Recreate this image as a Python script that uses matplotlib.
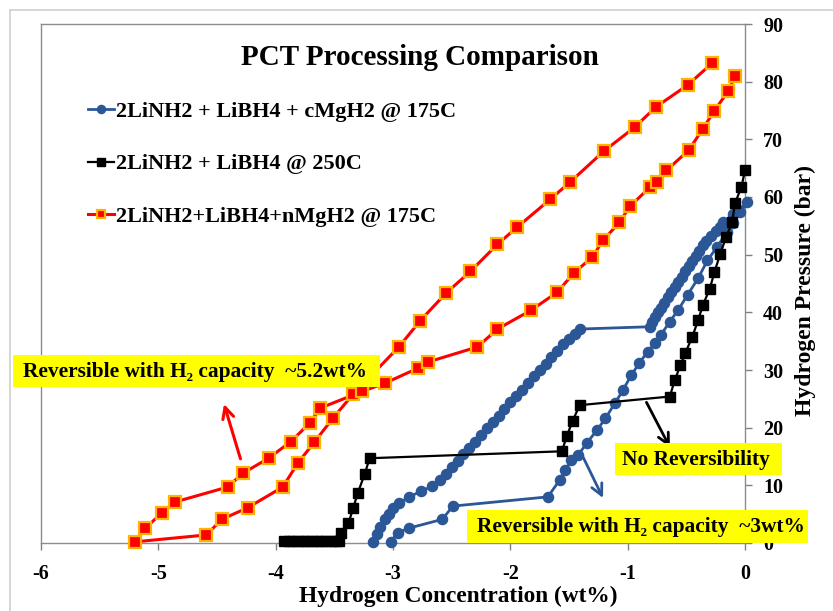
import matplotlib
matplotlib.use('Agg')
import matplotlib.pyplot as plt
from matplotlib.lines import Line2D
from matplotlib.patches import Rectangle

plt.rcParams['font.family'] = ['Liberation Serif', 'DejaVu Serif']
plt.rcParams['font.weight'] = 'bold'

# ---------------- data ----------------
labels = ['2LiNH2 + LiBH4 + cMgH2 @ 175C',
          '2LiNH2 + LiBH4 @ 250C',
          '2LiNH2+LiBH4+nMgH2 @ 175C']

blue_x = [-3.17, -3.14, -3.11, -3.07, -3.03, -3.00, -2.95, -2.86, -2.76, -2.67,
          -2.60, -2.55, -2.50, -2.45, -2.40, -2.35, -2.30, -2.25, -2.20, -2.15,
          -2.10, -2.05, -2.00, -1.95, -1.90, -1.85, -1.80, -1.75, -1.70, -1.65,
          -1.60, -1.55, -1.50, -1.45, -1.41,
          -0.81, -0.79, -0.77, -0.74, -0.72, -0.69, -0.66, -0.63, -0.60, -0.57,
          -0.54, -0.51, -0.48, -0.45, -0.42, -0.39, -0.36, -0.33, -0.29, -0.25,
          -0.21, -0.19, -0.10, 0.02,
          -0.04, -0.10, -0.15, -0.24, -0.32, -0.40, -0.49, -0.57, -0.64, -0.72,
          -0.77, -0.83, -0.90, -0.97, -1.04, -1.11, -1.19, -1.26, -1.35, -1.42,
          -1.48, -1.53, -1.58, -1.68, -2.49, -2.58, -2.86, -2.96, -3.02]
blue_y = [0.2, 1.6, 2.8, 4.1, 5.1, 6.0, 6.9, 8.0, 9.0, 9.8,
          10.9, 12.0, 13.1, 14.3, 15.4, 16.5, 17.6, 18.8, 19.9, 21.0,
          22.1, 23.3, 24.4, 25.5, 26.6, 27.8, 28.9, 30.0, 31.1, 32.2,
          33.3, 34.5, 35.4, 36.3, 37.1,
          37.5, 38.3, 39.2, 40.0, 40.8, 41.7, 42.6, 43.5, 44.4, 45.3,
          46.2, 47.1, 48.0, 48.9, 49.8, 50.7, 51.6, 52.4, 53.3, 54.1,
          54.8, 55.6, 57.0, 59.1,
          57.4, 55.5, 54.0, 51.3, 49.0, 45.9, 43.0, 40.4, 38.4, 36.0,
          34.6, 33.2, 31.2, 29.1, 26.5, 24.2, 21.6, 19.6, 17.3, 15.3,
          14.4, 12.7, 10.9, 8.0, 6.4, 4.1, 2.6, 1.8, 0.2]

black_x = [-3.93, -3.89, -3.85, -3.81, -3.77, -3.73, -3.69, -3.65, -3.61, -3.57,
           -3.53, -3.49, -3.46, -3.44, -3.38, -3.34, -3.30, -3.24, -3.20,
           -1.56, -1.52, -1.47, -1.41, -0.64, -0.60, -0.55, -0.51, -0.45, -0.40,
           -0.36, -0.30, -0.26, -0.21, -0.16, -0.11, -0.085, -0.03, 0.0]
black_y = [0.3, 0.3, 0.3, 0.3, 0.3, 0.3, 0.3, 0.3, 0.3, 0.3,
           0.3, 0.3, 0.3, 1.7, 3.4, 6.0, 8.7, 12.0, 14.7,
           15.9, 18.5, 21.1, 23.9, 25.4, 28.2, 30.8, 32.9, 35.7, 38.6,
           41.2, 44.1, 47.0, 50.2, 53.1, 55.6, 58.9, 61.8, 64.6]

red_x = [-0.28, -0.49, -0.76, -0.94, -1.20, -1.49, -1.66, -1.94, -2.11, -2.34,
         -2.55, -2.77, -2.95, -3.34, -3.51, -3.67, -3.81, -3.94, -4.24, -4.46,
         -4.59, -5.20,
         -5.11, -4.97, -4.86, -4.41, -4.28, -4.06, -3.87, -3.71, -3.62, -3.26,
         -3.07, -2.79, -2.70, -2.28, -2.11, -1.82, -1.60, -1.46, -1.30, -1.21,
         -1.07, -0.98, -0.81, -0.75, -0.67, -0.48, -0.36, -0.26, -0.145, -0.085]
red_y = [83.2, 79.4, 75.6, 72.1, 68.0, 62.6, 59.6, 54.8, 51.8, 47.1,
         43.3, 38.5, 34.0, 25.8, 21.7, 17.5, 13.9, 9.7, 6.1, 4.1,
         1.4, 0.2,
         2.6, 5.2, 7.1, 9.7, 12.1, 14.7, 17.6, 20.8, 23.4, 26.3,
         27.7, 30.3, 31.4, 34.0, 37.1, 40.4, 43.5, 46.8, 49.6, 52.5,
         55.6, 58.4, 61.7, 62.6, 64.6, 68.1, 71.8, 75.0, 78.3, 80.9]

x_ticks = [-6, -5, -4, -3, -2, -1, 0]
y_ticks = [0, 10, 20, 30, 40, 50, 60, 70, 80, 90]

# ---------------- figure ----------------
W, H = 833, 611
fig = plt.figure(figsize=(W / 100, H / 100), dpi=100)
ax = fig.add_axes([41 / W, 1 - 543 / H, 704 / W, 519 / H])

blue_c = '#2B5797'
ax.plot(blue_x, blue_y, '-o', color=blue_c, lw=2.0, ms=7.3, mec=blue_c,
        mfc=blue_c, clip_on=False, zorder=3, label=labels[0])
ax.plot(black_x, black_y, '-s', color='black', lw=1.6, ms=7.3,
        clip_on=False, zorder=3.1, label=labels[1])
ax.plot(red_x, red_y, '-s', color='#FF0000', lw=2.2, ms=8, mfc='#FF0000',
        mec='#FFB400', mew=1.6, clip_on=False, zorder=3.2, label=labels[2])

ax.set_xlim(-6, 0)
ax.set_ylim(0, 90)
ax.set_xticks(x_ticks)
ax.set_yticks(y_ticks)
ax.set_xticklabels([str(v) for v in x_ticks])
ax.yaxis.tick_right()
ax.yaxis.set_label_position('right')
ax.tick_params(axis='both', direction='out', length=5, color='#808080',
               labelsize=14.5, width=1)
ax.tick_params(axis='x', pad=10)
ax.tick_params(axis='y', pad=8)
for s in ax.spines.values():
    s.set_color('#8C8C8C')
    s.set_linewidth(1.0)

ax.set_xlabel('Hydrogen Concentration (wt%)', fontsize=16.8, fontweight='bold')
ax.xaxis.set_label_coords((458 - 41) / 704, (543 - 596) / 519)
ax.xaxis.label.set_va('center')
ax.set_ylabel('Hydrogen Pressure (bar)', fontsize=17, fontweight='bold')
ax.yaxis.set_label_coords((805 - 41) / 704, (543 - 290) / 519)
ax.yaxis.label.set_va('center')

ax.text((420 - 41) / 704, (543 - 65) / 519, 'PCT Processing Comparison',
        transform=ax.transAxes, ha='center', va='baseline', fontsize=21,
        fontweight='bold')

ax.legend(loc='upper left', bbox_to_anchor=((88 - 41) / 704, (543 - 101) / 519),
          frameon=False, fontsize=16, handlelength=1.15, handletextpad=0.1,
          labelspacing=1.45, borderpad=0, borderaxespad=0, numpoints=1,
          markerscale=0.8)

# annotation arrows
ax.annotate('', xy=(-4.44, 24.1), xytext=(-4.30, 14.6),
            arrowprops=dict(arrowstyle='->', color='#FF0000', lw=2.2,
                            mutation_scale=20, shrinkA=0, shrinkB=0), zorder=5)
ax.annotate('', xy=(-0.64, 16.6), xytext=(-0.84, 24.4),
            arrowprops=dict(arrowstyle='->', color='black', lw=2.0,
                            mutation_scale=20, shrinkA=0, shrinkB=0), zorder=5)
ax.annotate('', xy=(-1.21, 7.8), xytext=(-1.38, 14.9),
            arrowprops=dict(arrowstyle='->', color=blue_c, lw=2.0,
                            mutation_scale=20, shrinkA=0, shrinkB=0), zorder=5)

# yellow callout boxes
for (x0, x1, y0, y1) in [(-6.239, -3.111, 27.05, 32.6),
                         (-1.108, 0.315, 11.79, 17.34),
                         (-2.369, 0.537, 0.0, 5.72)]:
    ax.add_patch(Rectangle((x0, y0), x1 - x0, y1 - y0, fc='#FFFF00', ec='none',
                           clip_on=False, zorder=6))

ax.text(-4.688, 29.7, 'Reversible with H₂ capacity  ~5.2wt%', ha='center',
        va='center', fontsize=15.4, fontweight='bold', zorder=7)
ax.text(-0.414, 14.4, 'No Reversibility', ha='center', va='center',
        fontsize=15.4, fontweight='bold', zorder=7)
ax.text(-0.886, 2.8, 'Reversible with H₂ capacity  ~3wt%', ha='center',
        va='center', fontsize=15.4, fontweight='bold', zorder=7)

# outer chart border (top and left visible)
fig.add_artist(Line2D([10 / W, 10 / W], [0, 1 - 10 / H], color='#D0D0D0',
                      lw=1.2, transform=fig.transFigure))
fig.add_artist(Line2D([10 / W, 1], [1 - 10 / H, 1 - 10 / H], color='#D0D0D0',
                      lw=1.2, transform=fig.transFigure))

fig.savefig('out.png', dpi=100, facecolor='white')
